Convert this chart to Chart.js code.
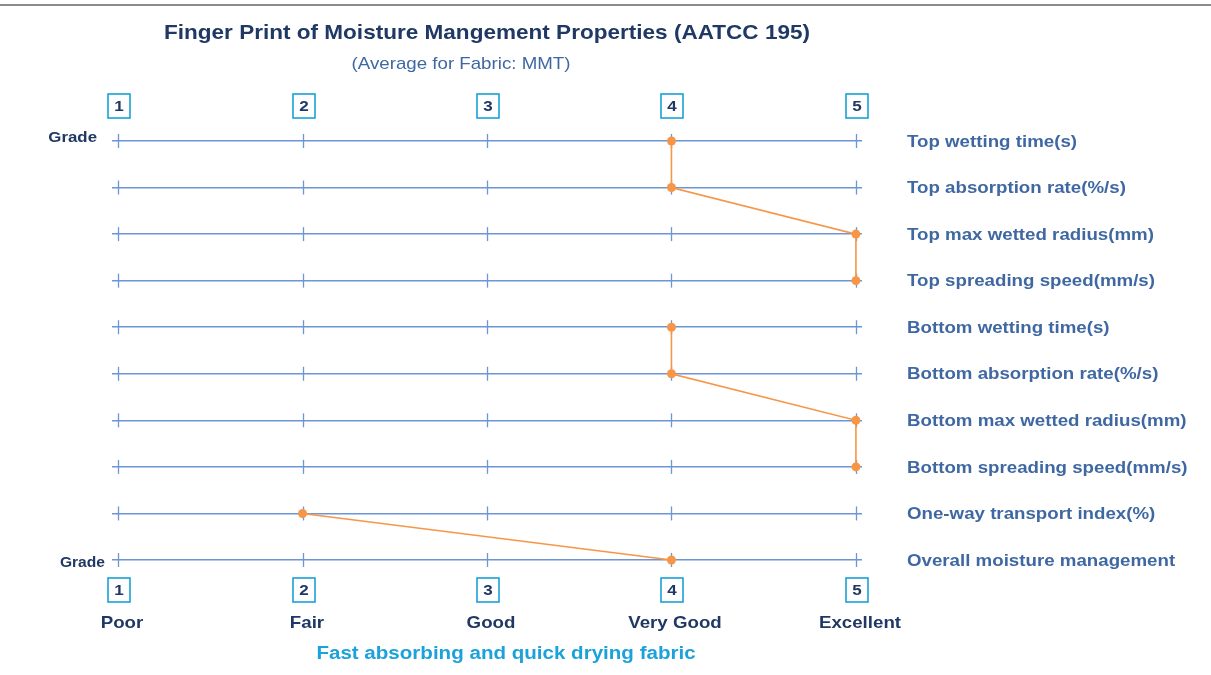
<!DOCTYPE html>
<html>
<head>
<meta charset="utf-8">
<script src="https://cdn.jsdelivr.net/npm/chart.js@4.4.0/dist/chart.umd.min.js"></script>
<style>
  html, body { margin: 0; padding: 0; background: #fff; }
  #wrap { width: 1211px; height: 675px; position: relative; }
</style>
</head>
<body>
<div id="wrap"><canvas id="fp"></canvas></div>
<script>
// properties (rows, top to bottom), their grades and which line they belong to
const rowLabels = [
    'Top wetting time(s)',
    'Top absorption rate(%/s)',
    'Top max wetted radius(mm)',
    'Top spreading speed(mm/s)',
    'Bottom wetting time(s)',
    'Bottom absorption rate(%/s)',
    'Bottom max wetted radius(mm)',
    'Bottom spreading speed(mm/s)',
    'One-way transport index(%)',
    'Overall moisture management'
];
const grades = [4, 4, 5, 5, 4, 4, 5, 5, 2, 4];
const lineGroups = ['top', 'top', 'top', 'top', 'bottom', 'bottom', 'bottom', 'bottom', 'overall', 'overall'];

// grade scale
const gradeTicks = [1, 2, 3, 4, 5];
const gradeNames = ['Poor', 'Fair', 'Good', 'Very Good', 'Excellent'];

const NAVY = '#1f3864';
const LINE_BLUE = '#6c96d8';
const LABEL_BLUE = '#3f68a3';
const BOX_BLUE = '#1aa0d8';
const ORANGE = '#f79646';
const FONT = '"Liberation Sans", Arial, sans-serif';
const STRETCH = 1.1; // text in the original is drawn a bit wide

function wideText(ctx, text, x, y, font, color, align) {
    ctx.save();
    ctx.translate(x, y);
    ctx.scale(STRETCH, 1);
    ctx.font = font;
    ctx.fillStyle = color;
    ctx.textAlign = align || 'center';
    ctx.textBaseline = 'middle';
    ctx.fillText(text, 0, 0);
    ctx.restore();
}

const decorPlugin = {
    id: 'decor',
    beforeDatasetsDraw(chart) {
        const ctx = chart.ctx, xs = chart.scales.x, ys = chart.scales.y;
        ctx.save();
        ctx.strokeStyle = LINE_BLUE;
        ctx.lineWidth = 1.3;
        // small vertical ticks on every row
        rowLabels.forEach((_, r) => {
            const y = ys.getPixelForValue(r);
            gradeTicks.forEach(g => {
                const x = Math.round(xs.getPixelForValue(g)) + 0.5;
                ctx.beginPath();
                ctx.moveTo(x, y - 7);
                ctx.lineTo(x, y + 7);
                ctx.stroke();
            });
        });
        ctx.restore();
    },
    afterDraw(chart) {
        const ctx = chart.ctx, xs = chart.scales.x, ys = chart.scales.y;
        ctx.save();
        // grey rule at the top
        ctx.strokeStyle = '#8c8c8c';
        ctx.lineWidth = 2;
        ctx.beginPath();
        ctx.moveTo(0, 5);
        ctx.lineTo(chart.width, 5);
        ctx.stroke();
        ctx.restore();

        wideText(ctx, 'Finger Print of Moisture Mangement Properties (AATCC 195)', 487, 33, 'bold 20.5px ' + FONT, NAVY);
        wideText(ctx, '(Average for Fabric: MMT)', 461, 64, '17px ' + FONT, LABEL_BLUE);
        wideText(ctx, 'Fast absorbing and quick drying fabric', 506, 654, 'bold 18.7px ' + FONT, '#1ba1dc');

        // row labels on the right
        rowLabels.forEach((lbl, r) => {
            wideText(ctx, lbl, chart.chartArea.right + 45, ys.getPixelForValue(r) + 1, 'bold 17px ' + FONT, LABEL_BLUE, 'left');
        });

        // boxed grade numbers, top and bottom, and grade names
        gradeTicks.forEach((g, i) => {
            const x = Math.round(xs.getPixelForValue(g)) + 1;
            [106, 590].forEach(cy => {
                ctx.save();
                ctx.strokeStyle = BOX_BLUE;
                ctx.lineWidth = 1.6;
                ctx.strokeRect(x - 11, cy - 12, 22, 24);
                ctx.restore();
                wideText(ctx, String(g), x, cy + 1, 'bold 15.5px ' + FONT, NAVY);
            });
            wideText(ctx, gradeNames[i], x + 3, 623, 'bold 17px ' + FONT, NAVY);
        });

        // "Grade" labels
        wideText(ctx, 'Grade', 97, ys.getPixelForValue(0) - 3, 'bold 15.3px ' + FONT, NAVY, 'right');
        wideText(ctx, 'Grade', 105, ys.getPixelForValue(rowLabels.length - 1) + 3, 'bold 14.2px ' + FONT, NAVY, 'right');
    }
};

const groupNames = [...new Set(lineGroups)];
const datasets = groupNames.map(name => ({
    data: grades.map((g, i) => ({ x: g, y: i })).filter((_, i) => lineGroups[i] === name),
    borderColor: ORANGE,
    backgroundColor: ORANGE,
    borderWidth: 1.6,
    pointRadius: 4.5,
    pointHoverRadius: 4.5,
    pointBorderWidth: 0,
    tension: 0,
    clip: false
}));

new Chart(document.getElementById('fp').getContext('2d'), {
    type: 'line',
    data: { datasets },
    options: {
        responsive: true,
        maintainAspectRatio: false,
        animation: false,
        layout: { padding: { left: 112, top: 141, right: 0, bottom: 0 } },
        plugins: {
            legend: { display: false },
            tooltip: { enabled: false },
            title: { display: false }
        },
        scales: {
            x: {
                type: 'linear',
                position: 'bottom',
                min: 0.967,
                max: 5.033,
                afterBuildTicks: s => { s.ticks = gradeTicks.map(v => ({ value: v })); },
                afterFit: s => { s.height = 115; },
                grid: { display: false },
                border: { display: false },
                ticks: { display: false }
            },
            y: {
                type: 'linear',
                position: 'right',
                reverse: true,
                min: 0,
                max: rowLabels.length - 1,
                afterBuildTicks: s => { s.ticks = rowLabels.map((_, i) => ({ value: i })); },
                afterFit: s => { s.width = 349; },
                grid: { color: LINE_BLUE, lineWidth: 1.5, drawTicks: false },
                border: { display: false },
                ticks: { display: false }
            }
        }
    },
    plugins: [decorPlugin]
});
</script>
</body>
</html>
